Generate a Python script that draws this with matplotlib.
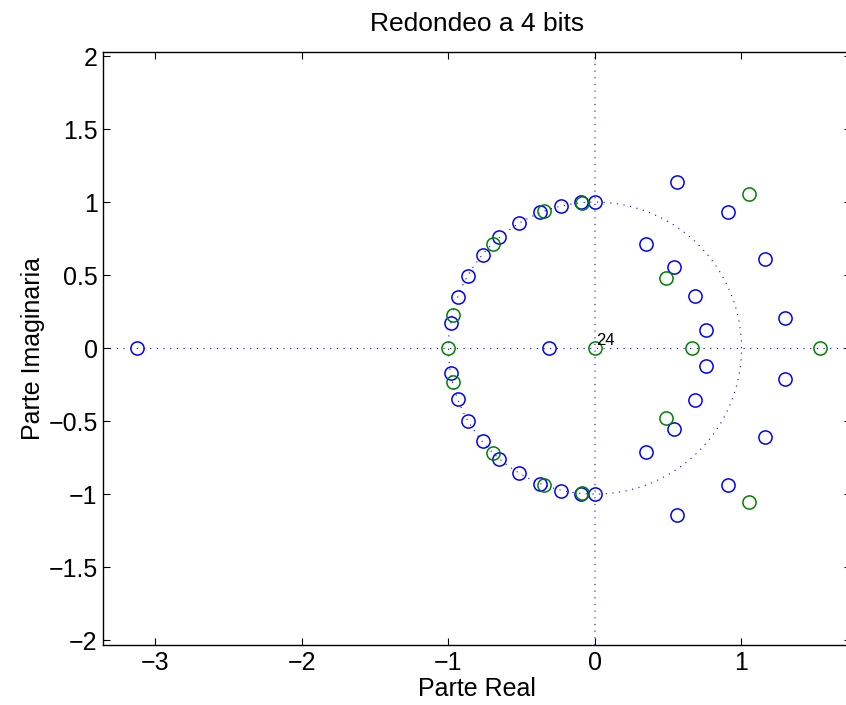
import numpy as np
import matplotlib
matplotlib.use("Agg")
import matplotlib.pyplot as plt

plt.rcParams['font.family'] = ['Liberation Sans', 'DejaVu Sans']

# Original zeros (blue): upper half-plane, mirrored as conjugates
blue_upper_re = [0.00, -0.096, -0.23, -0.375, -0.519, -0.653, -0.765, -0.865, -0.935, -0.981,
                 0.560, 0.906, 0.350, 0.541, 1.160, 0.685, 1.297, 0.760]
blue_upper_im = [1.00, 0.998, 0.976, 0.930, 0.858, 0.762, 0.638, 0.497, 0.348, 0.173,
                 1.140, 0.935, 0.711, 0.556, 0.608, 0.358, 0.209, 0.122]
blue_real = [-3.126, -0.314]

# Quantized zeros (green, rounding to 4 bits)
green_upper_re = [-0.091, -0.346, -0.696, -0.971, 1.051, 0.483]
green_upper_im = [0.995, 0.937, 0.716, 0.229, 1.053, 0.481]
green_real = [-1.0, 0.0, 0.660, 1.534]

origin_multiplicity = "24"

title = "Redondeo a 4 bits"
xlabel = "Parte Real"
ylabel = "Parte Imaginaria"
xticks = [-3, -2, -1, 0, 1]
yticks = [-2, -1.5, -1, -0.5, 0, 0.5, 1, 1.5, 2]

W, H = 846, 705
fig = plt.figure(figsize=(W / 100, H / 100), dpi=100)
xlim = (-3.356, 1.75)
ylim = (-2.033, 2.03)
left = 103.3 / W
right_px = 595 + xlim[1] * 146.5
bottom = (H - 645) / H
top = 1 - 51.7 / H
ax = fig.add_axes([left, bottom, (right_px - 103.3) / W, top - bottom])

dotted = (0, (1, 5))
blue = (0, 0, 1)
green = (0, 0.5, 0)

# axis lines and unit circle
ax.axhline(0, color=blue, lw=0.8, ls=dotted, zorder=1)
ax.axvline(0, color=blue, lw=0.8, ls=dotted, zorder=1, snap=False)
t = np.linspace(0, 2 * np.pi, 400)
ax.plot(np.cos(t), np.sin(t), color=blue, lw=0.8, ls=dotted, zorder=1)

def full(re_u, im_u, re_r):
    re = list(re_u) + list(re_u) + list(re_r)
    im = list(im_u) + [-v for v in im_u] + [0.0] * len(re_r)
    return re, im

bre, bim = full(blue_upper_re, blue_upper_im, blue_real)
gre, gim = full(green_upper_re, green_upper_im, green_real)

ax.plot(bre, bim, 'o', mfc='none', mec=blue, ms=9.5, mew=1.1, ls='none', zorder=3)
ax.plot(gre, gim, 'o', mfc='none', mec=green, ms=9.5, mew=1.1, ls='none', zorder=4)

ax.text(0.005, 0.02, origin_multiplicity, fontsize=12, ha='left', va='baseline', zorder=5)

ax.set_xlim(xlim)
ax.set_ylim(ylim)
ax.set_xticks(xticks)
ax.set_yticks(yticks)
ax.set_xticklabels([f"{v:g}".replace("-", "\u2212") for v in xticks])
ax.set_yticklabels([f"{v:g}".replace("-", "\u2212") for v in yticks])
ax.tick_params(direction='in', length=5, width=0.8, top=True, right=True,
               labelsize=18, pad=4)
for s in ax.spines.values():
    s.set_linewidth(1.0)

ax.set_title(title, fontsize=19, pad=15)
ax.set_xlabel(xlabel, fontsize=18, labelpad=2)
ax.set_ylabel(ylabel, fontsize=18, labelpad=2.5)

fig.savefig("out.png", dpi=100)
